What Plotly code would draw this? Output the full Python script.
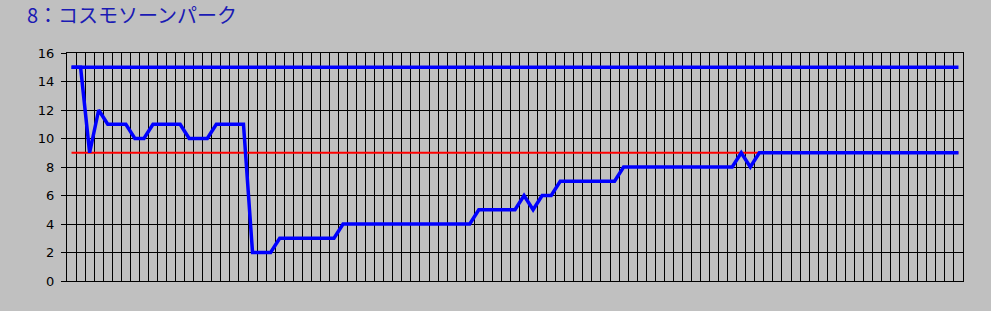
import plotly.graph_objects as go

title_text = "8：コスモソーンパーク"
n_points = 99
main_values = ([15, 15, 9, 12, 11, 11, 11, 10, 10, 11, 11, 11, 11, 10, 10, 10,
                11, 11, 11, 11, 2, 2, 2]
               + [3] * 7 + [4] * 15 + [5] * 5
               + [6, 5, 6, 6] + [7] * 7 + [8] * 13 + [9, 8] + [9] * 23)
field_size = [15] * n_points
final_rank = [9] * n_points
x_idx = list(range(n_points))
y_ticks = [0, 2, 4, 6, 8, 10, 12, 14, 16]

W, H = 991, 311
ML, MR, MT, MB = 67, 28, 53, 30
PW, PH = W - ML - MR, H - MT - MB

fig = go.Figure()
fig.add_trace(go.Scatter(x=x_idx, y=final_rank, mode="lines",
                         line=dict(color="#ff0000", width=2), hoverinfo="skip"))
fig.add_trace(go.Scatter(x=x_idx, y=field_size, mode="lines",
                         line=dict(color="#0000ff", width=3.5), hoverinfo="skip"))
fig.add_trace(go.Scatter(x=x_idx, y=main_values, mode="lines",
                         line=dict(color="#0000ff", width=3.5), hoverinfo="skip"))

fig.add_annotation(text=title_text, xref="paper", yref="paper",
                   x=(25 - ML) / PW, xanchor="left",
                   y=1 + (MT - 15) / PH, yanchor="middle",
                   showarrow=False,
                   font=dict(family="Noto Sans CJK JP", size=20, color="#1a1ab4"))

fig.update_layout(
    width=W, height=H,
    margin=dict(l=ML, r=MR, t=MT, b=MB),
    paper_bgcolor="#c0c0c0", plot_bgcolor="#c0c0c0",
    showlegend=False,
    xaxis=dict(range=[-0.5, n_points - 0.5], tickmode="linear", tick0=-0.5, dtick=1,
               showticklabels=False, ticks="", showgrid=True, gridcolor="#000000",
               gridwidth=1, showline=True, linecolor="#000000", linewidth=1,
               mirror=True, zeroline=False, fixedrange=True),
    yaxis=dict(range=[0, 16], tickvals=y_ticks, ticks="outside", ticklen=5,
               tickcolor="#000000", tickwidth=1, showgrid=True, gridcolor="#000000",
               gridwidth=1, showline=True, linecolor="#000000", linewidth=1,
               mirror=True, zeroline=False, ticklabelstandoff=4,
               tickfont=dict(family="DejaVu Sans", size=13, color="#000000"),
               fixedrange=True),
)
fig.write_html("out.html")
